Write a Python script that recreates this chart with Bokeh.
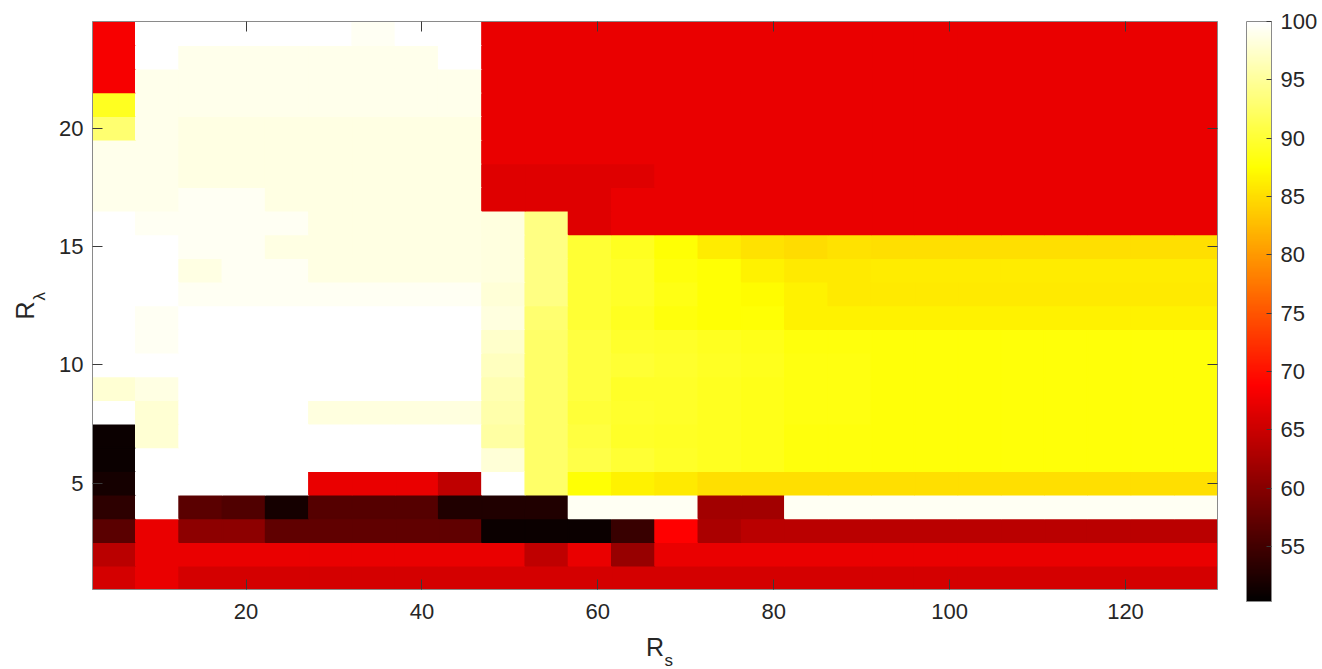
import numpy as np
from bokeh.plotting import figure
from bokeh.models import (LinearColorMapper, ColorBar, LinearAxis, FixedTicker,
                          Title, ColumnDataSource, Range1d, CustomJSTickFormatter)
from bokeh.transform import transform
from bokeh.embed import file_html
from bokeh.resources import INLINE

# ---------------- data ----------------
Rs = [5.0, 9.92, 14.84, 19.76, 24.68, 29.6, 34.52, 39.44, 44.36, 49.28, 54.2, 59.12,
      64.04, 68.96, 73.88, 78.8, 83.72, 88.64, 93.56, 98.48, 103.4, 108.32, 113.24,
      118.16, 123.08, 128.0]
R_lambda = [1, 2, 3, 4, 5, 6, 7, 8, 9, 10, 11, 12, 13, 14, 15, 16, 17, 18, 19, 20,
            21, 22, 23, 24]

row_01 = [65.8, 67.3, 65.8, 65.8, 65.8, 65.8, 65.8, 65.8, 65.8, 65.8, 65.8, 65.8, 65.8,
          65.8, 65.8, 65.8, 65.8, 65.8, 65.8, 65.8, 65.8, 65.8, 65.8, 65.8, 65.8, 65.8]
row_02 = [63.8, 67.3, 67.3, 67.3, 67.3, 67.3, 67.3, 67.3, 67.3, 67.3, 64.2, 67.3, 61.3,
          67.3, 67.3, 67.3, 67.3, 67.3, 67.3, 67.3, 67.3, 67.3, 67.3, 67.3, 67.3, 67.3]
row_03 = [56.9, 67.3, 60.5, 60.5, 57.2, 57.2, 57.2, 57.2, 57.2, 51.0, 51.0, 51.0, 54.3,
          68.9, 62.7, 63.8, 63.8, 63.8, 63.8, 63.8, 63.8, 63.8, 63.8, 63.8, 63.8, 63.8]
row_04 = [53.6, 100, 56.9, 56.1, 51.8, 56.5, 56.5, 56.5, 52.5, 52.5, 52.5, 99.3, 99.3,
          99.3, 62.0, 62.0, 99.3, 99.3, 99.3, 99.3, 99.3, 99.3, 99.3, 99.3, 99.3, 99.3]
row_05 = [51.8, 100, 100, 100, 100, 67.3, 67.3, 67.3, 64.2, 100, 92.45, 87.6, 86.5,
          85.9, 85.2, 85.2, 85.2, 85.2, 85.2, 85.2, 85.2, 85.2, 85.2, 85.2, 85.2, 85.2]
row_06 = [50.9, 100, 100, 100, 100, 100, 100, 100, 100, 98.0, 92.45, 91.0, 90.0,
          89.5, 89.0, 88.55, 88.06, 88.06, 87.8, 87.8, 87.8, 87.8, 87.8, 87.8, 87.8, 87.8]
row_07 = [51.0, 97.8, 100, 100, 100, 100, 100, 100, 100, 95.4, 92.45, 90.5, 89.5,
          89.2, 89.0, 88.55, 88.1, 88.1, 87.8, 87.8, 87.8, 87.8, 87.8, 87.8, 87.8, 87.8]
row_08 = [100, 97.8, 100, 100, 100, 98.3, 98.3, 98.3, 98.3, 95.9, 92.45, 90.2, 89.6,
          89.4, 89.0, 88.6, 88.2, 88.2, 87.9, 87.9, 87.9, 87.9, 87.9, 87.9, 87.9, 87.9]
row_09 = [97.8, 98.5, 100, 100, 100, 100, 100, 100, 100, 96.3, 92.45, 90.5, 89.5,
          89.5, 89.0, 88.6, 88.2, 88.2, 87.9, 87.9, 87.9, 87.9, 87.9, 87.9, 87.9, 87.9]
row_10 = [100, 100, 100, 100, 100, 100, 100, 100, 100, 96.8, 92.45, 90.5, 90.0,
          89.7, 89.2, 88.8, 88.3, 88.3, 87.9, 87.9, 87.9, 87.9, 87.9, 87.9, 87.9, 87.9]
row_11 = [100, 99.3, 100, 100, 100, 100, 100, 100, 100, 97.3, 92.45, 90.5, 89.7,
          89.5, 89.0, 88.55, 88.06, 88.06, 87.8, 87.8, 87.8, 87.8, 87.8, 87.8, 87.8, 87.8]
row_12 = [100, 99.3, 100, 100, 100, 100, 100, 100, 100, 98.3, 92.9, 90.0, 89.0,
          88.0, 87.6, 87.6, 86.5, 86.5, 86.5, 86.5, 86.5, 86.5, 86.5, 86.5, 86.5, 86.5]
row_13 = [100, 100, 99.3, 99.3, 99.3, 99.3, 99.3, 99.3, 99.3, 98.0, 93.8, 90.0, 89.5,
          88.5, 87.6, 87.2, 86.5, 85.9, 86.0, 86.0, 86.0, 86.0, 86.0, 86.0, 86.0, 86.0]
row_14 = [100, 100, 98.5, 99.3, 99.3, 98.5, 98.5, 98.5, 98.5, 98.3, 93.8, 90.0, 89.5,
          88.0, 87.6, 86.5, 85.9, 85.9, 86.1, 86.1, 86.1, 86.1, 86.1, 86.1, 86.1, 86.1]
row_15 = [100, 100, 99.3, 99.3, 98.5, 98.5, 98.5, 98.5, 98.5, 98.3, 93.8, 90.0, 89.0,
          87.6, 86.1, 85.4, 85.0, 85.4, 85.2, 85.2, 85.2, 85.2, 85.2, 85.2, 85.2, 85.2]
row_16 = [100, 99.3, 99.3, 99.3, 99.3, 98.5, 98.5, 98.5, 98.5, 98.3, 93.8, 66.5, 67.3,
          67.3, 67.3, 67.3, 67.3, 67.3, 67.3, 67.3, 67.3, 67.3, 67.3, 67.3, 67.3, 67.3]
row_17 = [99.0, 99.0, 99.3, 99.3, 98.5, 98.5, 98.5, 98.5, 98.5, 66.5, 66.5, 66.5, 67.3,
          67.3, 67.3, 67.3, 67.3, 67.3, 67.3, 67.3, 67.3, 67.3, 67.3, 67.3, 67.3, 67.3]
row_18 = [99.0, 99.0, 98.5, 98.5, 98.5, 98.5, 98.5, 98.5, 98.5, 66.5, 66.5, 66.5, 66.5,
          67.3, 67.3, 67.3, 67.3, 67.3, 67.3, 67.3, 67.3, 67.3, 67.3, 67.3, 67.3, 67.3]
row_19 = [99.0, 99.0, 98.5, 98.5, 98.5, 98.5, 98.5, 98.5, 98.5, 67.3, 67.3, 67.3, 67.3,
          67.3, 67.3, 67.3, 67.3, 67.3, 67.3, 67.3, 67.3, 67.3, 67.3, 67.3, 67.3, 67.3]
row_20 = [92.9, 99.0, 98.5, 98.5, 98.5, 98.5, 98.5, 98.5, 98.5, 67.3, 67.3, 67.3, 67.3,
          67.3, 67.3, 67.3, 67.3, 67.3, 67.3, 67.3, 67.3, 67.3, 67.3, 67.3, 67.3, 67.3]
row_21 = [89.0, 99.0, 99.0, 99.0, 99.0, 99.0, 99.0, 99.0, 99.0, 67.3, 67.3, 67.3, 67.3,
          67.3, 67.3, 67.3, 67.3, 67.3, 67.3, 67.3, 67.3, 67.3, 67.3, 67.3, 67.3, 67.3]
row_22 = [68.2, 99.0, 99.0, 99.0, 99.0, 99.0, 99.0, 99.0, 99.0, 67.3, 67.3, 67.3, 67.3,
          67.3, 67.3, 67.3, 67.3, 67.3, 67.3, 67.3, 67.3, 67.3, 67.3, 67.3, 67.3, 67.3]
row_23 = [68.2, 100, 99.0, 99.0, 99.0, 99.0, 99.0, 99.0, 100, 67.3, 67.3, 67.3, 67.3,
          67.3, 67.3, 67.3, 67.3, 67.3, 67.3, 67.3, 67.3, 67.3, 67.3, 67.3, 67.3, 67.3]
row_24 = [68.2, 100, 100, 100, 100, 100, 99.3, 100, 100, 67.3, 67.3, 67.3, 67.3,
          67.3, 67.3, 67.3, 67.3, 67.3, 67.3, 67.3, 67.3, 67.3, 67.3, 67.3, 67.3, 67.3]

rows = [row_01, row_02, row_03, row_04, row_05, row_06, row_07, row_08, row_09, row_10,
        row_11, row_12, row_13, row_14, row_15, row_16, row_17, row_18, row_19, row_20,
        row_21, row_22, row_23, row_24]

x_ticks = [20, 40, 60, 80, 100, 120]
y_ticks = [5, 10, 15, 20]
cbar_ticks = [55, 60, 65, 70, 75, 80, 85, 90, 95, 100]
c_low, c_high = 50.3, 100.0

# ---------------- MATLAB "hot" colormap ----------------
def hot(m=256):
    n = int(3 * m / 8)
    out = []
    for i in range(1, m + 1):
        r = min(i / n, 1.0)
        g = min(max((i - n) / n, 0.0), 1.0)
        b = min(max((i - 2 * n) / (m - 2 * n), 0.0), 1.0)
        out.append("#%02x%02x%02x" % (round(r * 255), round(g * 255), round(b * 255)))
    return out

mapper = LinearColorMapper(palette=hot(256), low=c_low, high=c_high)

xs, ys, vs = [], [], []
for j, row in enumerate(rows):
    for i, v in enumerate(row):
        xs.append(Rs[i]); ys.append(R_lambda[j]); vs.append(v)
src = ColumnDataSource(dict(x=xs, y=ys, v=vs))
cell_w = (Rs[-1] - Rs[0]) / (len(Rs) - 1)

FONT = "Liberation Sans"
TXT = "#262626"

p = figure(width=1320, height=668,
           x_range=Range1d(Rs[0] - cell_w / 2, Rs[-1] + cell_w / 2),
           y_range=Range1d(R_lambda[0] - 0.5, R_lambda[-1] + 0.5),
           output_backend="svg", toolbar_location=None,
           min_border_left=92, min_border_top=21, min_border_right=98,
           min_border_bottom=79)
p.grid.visible = False
p.outline_line_color = None
p.background_fill_color = "white"

p.rect(x="x", y="y", width=cell_w, height=1, source=src,
       fill_color=transform("v", mapper), line_color=transform("v", mapper),
       line_width=1.5)

xa = p.xaxis[0]
ya = p.yaxis[0]
xa.ticker = FixedTicker(ticks=x_ticks)
ya.ticker = FixedTicker(ticks=y_ticks)
for ax in (xa, ya):
    ax.major_tick_in = 10
    ax.major_tick_out = 0
    ax.minor_tick_line_color = None
    ax.major_tick_line_color = "#3a3a3a"
    ax.axis_line_color = "#8a8a8a"
    ax.major_label_text_font = FONT
    ax.major_label_text_font_size = "22px"
    ax.major_label_text_color = TXT
    ax.major_label_text_font_style = "normal"
xa.major_label_standoff = 14
ya.major_label_standoff = 9

# x title: "R" as the axis label, subscript "s" as a title right after it
xa.axis_label = "R"
xa.axis_label_text_font = FONT
xa.axis_label_text_font_size = "25px"
xa.axis_label_text_font_style = "normal"
xa.axis_label_text_color = TXT
xa.axis_label_standoff = 11

blank = CustomJSTickFormatter(code="return ''")
top_ax = LinearAxis(ticker=FixedTicker(ticks=x_ticks), formatter=blank)
right_ax = LinearAxis(ticker=FixedTicker(ticks=y_ticks), formatter=blank)
for ax in (top_ax, right_ax):
    ax.major_tick_in = 10
    ax.major_tick_out = 0
    ax.minor_tick_line_color = None
    ax.major_tick_line_color = "#3a3a3a"
    ax.axis_line_color = "#8a8a8a"
    ax.major_label_standoff = 0
p.add_layout(top_ax, "above")
p.add_layout(right_ax, "right")

cb = ColorBar(color_mapper=mapper, ticker=FixedTicker(ticks=cbar_ticks),
              width=25, height=580, location=(29, -12), padding=0, margin=0,
              major_tick_in=5, major_tick_out=0, major_tick_line_color="#3a3a3a",
              minor_tick_line_color=None,
              major_label_text_font=FONT, major_label_text_font_size="22px",
              major_label_text_color=TXT, label_standoff=9,
              bar_line_color="#8a8a8a", bar_line_width=1,
              background_fill_color=None, border_line_color=None)
p.add_layout(cb, "right")

def title(text, size, va, standoff, offset):
    return Title(text=text, text_font=FONT, text_font_size=size, text_color=TXT,
                 text_font_style="normal", align="left", vertical_align=va,
                 standoff=standoff, offset=offset)

p.add_layout(title("s", "17px", "top", -26, 572), "below")
p.add_layout(title("λ", "17px", "bottom", 16, 289), "left")
p.add_layout(title("R", "25px", "bottom", -39, 270), "left")

open("out.html", "w").write(file_html(p, INLINE))
